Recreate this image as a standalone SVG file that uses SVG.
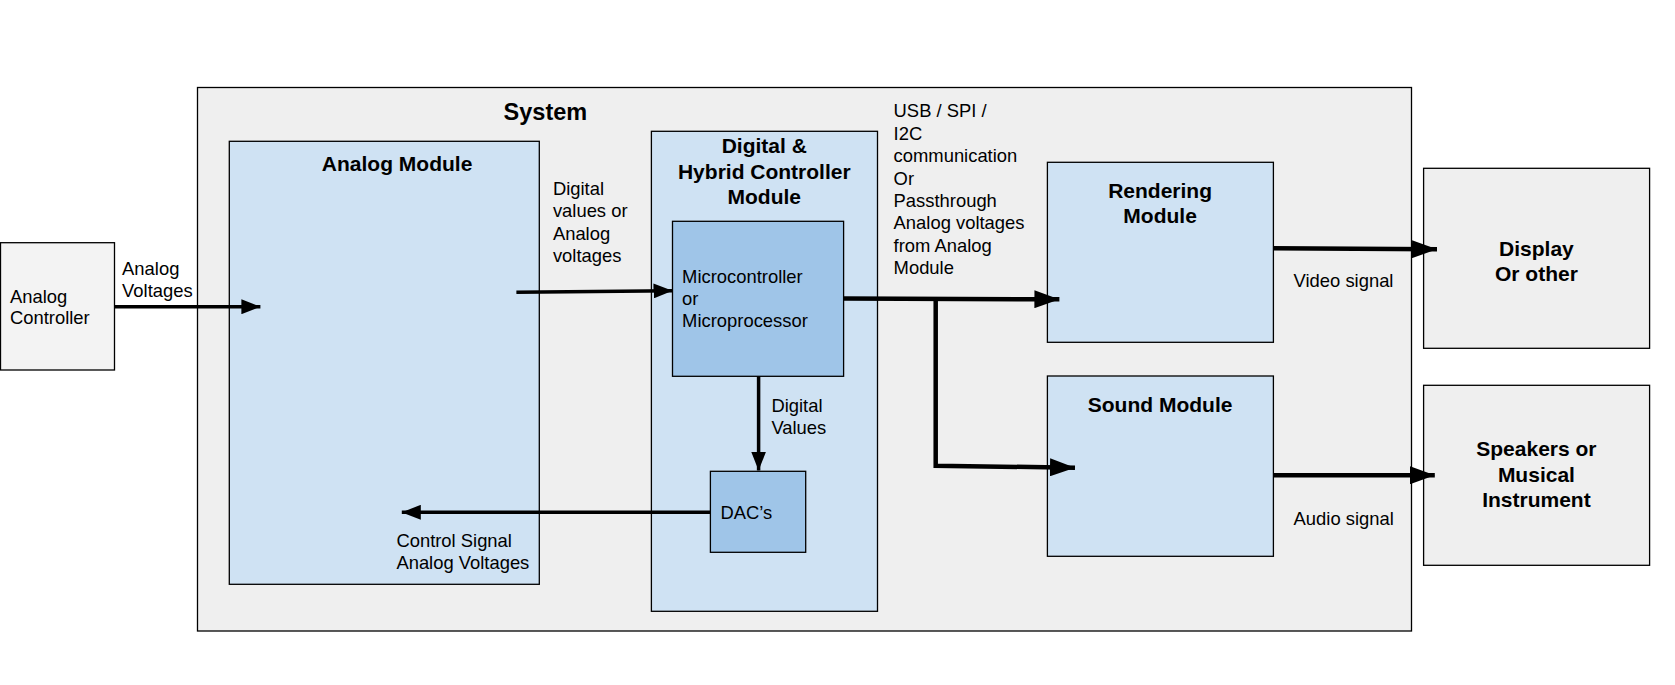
<svg xmlns="http://www.w3.org/2000/svg" width="1675" height="685" viewBox="0 0 1675 685">
<defs>
<style>
.box{stroke:#000;stroke-width:1.3}
.sys{fill:#efefef}
.ext{fill:#f3f3f3}
.mod{fill:#cfe2f3}
.inner{fill:#9fc5e8}
.gray{fill:#efefef}
text{font-family:"Liberation Sans",Arial,sans-serif;fill:#000}
.t{font-size:18.4px}
.b{font-size:21px;font-weight:bold}
.sb{font-size:23.5px;font-weight:bold}
.c{text-anchor:middle}
.ln{fill:none;stroke:#000;stroke-width:3.5}
.lnw{fill:none;stroke:#000;stroke-width:4.5}
</style>
<marker id="ah" markerUnits="userSpaceOnUse" markerWidth="19" markerHeight="15" refX="19" refY="7.5" orient="auto">
<path d="M0,0 L19,7.5 L0,15 z" fill="#000"/>
</marker>
<marker id="ahw" markerUnits="userSpaceOnUse" markerWidth="25" markerHeight="18" refX="25" refY="9" orient="auto">
<path d="M0,0 L25,9 L0,18 z" fill="#000"/>
</marker>
</defs>
<rect width="1675" height="685" fill="#fff"/>

<g id="system">
<rect class="box sys" x="197.5" y="87.5" width="1214" height="543.5"/>
<text class="sb" x="503.6" y="120">System</text>
</g>

<g id="analog-controller">
<rect class="box ext" x="0.5" y="242.7" width="114" height="127.3"/>
<text class="t" x="10" y="302.7">Analog</text>
<text class="t" x="10" y="324.3">Controller</text>
</g>

<g id="analog-module">
<rect class="box mod" x="229.3" y="141.3" width="310" height="443"/>
<text class="b c" x="397.1" y="170.7">Analog Module</text>
</g>

<g id="controller-module">
<rect class="box mod" x="651.4" y="131.3" width="226.1" height="480"/>
<text class="b c" x="764.3" y="153.3">Digital &amp;</text>
<text class="b c" x="764.3" y="178.7">Hybrid Controller</text>
<text class="b c" x="764.3" y="204">Module</text>
</g>

<g id="microcontroller">
<rect class="box inner" x="672.5" y="221.3" width="171.1" height="155"/>
<text class="t" x="682.1" y="283.3">Microcontroller</text>
<text class="t" x="682.1" y="305.3">or</text>
<text class="t" x="682.1" y="327.3">Microprocessor</text>
</g>

<g id="dac">
<rect class="box inner" x="710.4" y="471.3" width="95.3" height="81"/>
<text class="t" x="720.4" y="519">DAC’s</text>
</g>

<g id="rendering-module">
<rect class="box mod" x="1047.4" y="162.3" width="226" height="180"/>
<text class="b c" x="1160.1" y="198.3">Rendering</text>
<text class="b c" x="1160.1" y="223.3">Module</text>
</g>

<g id="sound-module">
<rect class="box mod" x="1047.4" y="376" width="226" height="180.3"/>
<text class="b c" x="1160.1" y="411.7">Sound Module</text>
</g>

<g id="display">
<rect class="box gray" x="1423.6" y="168.3" width="226" height="180"/>
<text class="b c" x="1536.4" y="256">Display</text>
<text class="b c" x="1536.4" y="280.7">Or other</text>
</g>

<g id="speakers">
<rect class="box gray" x="1423.6" y="385.3" width="226" height="180"/>
<text class="b c" x="1536.4" y="456">Speakers or</text>
<text class="b c" x="1536.4" y="481.7">Musical</text>
<text class="b c" x="1536.4" y="506.7">Instrument</text>
</g>

<g id="connectors">
<path class="ln" d="M114.5,306.7 L260.4,306.7" marker-end="url(#ah)"/>
<path class="ln" d="M516.4,292.3 L672.5,290.8" marker-end="url(#ah)"/>
<path class="lnw" d="M843.6,298.5 L1059.4,299.3" marker-end="url(#ahw)"/>
<path class="lnw" d="M935.7,298.5 L935.7,465.7 L1075,467.7" marker-end="url(#ahw)"/>
<path class="ln" d="M758.6,376.3 L758.6,470.5" marker-end="url(#ah)"/>
<path class="ln" d="M710.4,512.3 L401.8,512.3" marker-end="url(#ah)"/>
<path class="lnw" d="M1273.4,248.3 L1437,249.3" marker-end="url(#ahw)"/>
<path class="lnw" d="M1273.4,475.3 L1434.8,475.3" marker-end="url(#ahw)"/>
</g>

<g id="labels">
<text class="t" x="122.1" y="275">Analog</text>
<text class="t" x="122.1" y="297.3">Voltages</text>
<text class="t" x="552.9" y="195">Digital</text>
<text class="t" x="552.9" y="217.3">values or</text>
<text class="t" x="552.9" y="239.5">Analog</text>
<text class="t" x="552.9" y="261.7">voltages</text>
<text class="t" x="893.6" y="117.3">USB / SPI /</text>
<text class="t" x="893.6" y="139.7">I2C</text>
<text class="t" x="893.6" y="162.1">communication</text>
<text class="t" x="893.6" y="184.5">Or</text>
<text class="t" x="893.6" y="206.9">Passthrough</text>
<text class="t" x="893.6" y="229.3">Analog voltages</text>
<text class="t" x="893.6" y="251.7">from Analog</text>
<text class="t" x="893.6" y="274.1">Module</text>
<text class="t" x="771.4" y="411.7">Digital</text>
<text class="t" x="771.4" y="434">Values</text>
<text class="t" x="396.4" y="546.7">Control Signal</text>
<text class="t" x="396.4" y="569">Analog Voltages</text>
<text class="t" x="1293.6" y="286.7">Video signal</text>
<text class="t" x="1293.6" y="525">Audio signal</text>
</g>
</svg>
